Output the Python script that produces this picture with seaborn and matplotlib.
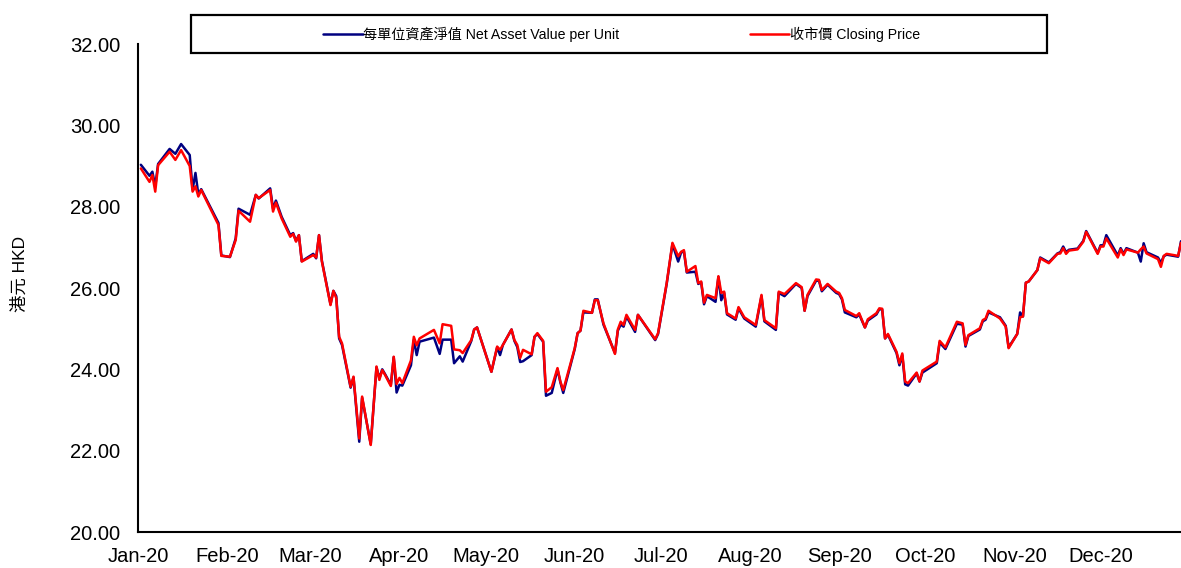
import pandas as pd
import numpy as np
import matplotlib
matplotlib.use("Agg")
import matplotlib.pyplot as plt
import matplotlib.dates as mdates
from matplotlib.patches import Rectangle
from matplotlib.lines import Line2D
from matplotlib.ticker import FormatStrFormatter
import seaborn as sns

# --- values (HKD, 2020) ---
dates = [
    "2020-01-02", "2020-01-05", "2020-01-06", "2020-01-07", "2020-01-08", "2020-01-12", "2020-01-14",
    "2020-01-16", "2020-01-19", "2020-01-20", "2020-01-21", "2020-01-22", "2020-01-23", "2020-01-29",
    "2020-01-30",
    "2020-02-02", "2020-02-04", "2020-02-05", "2020-02-09", "2020-02-11", "2020-02-12", "2020-02-16",
    "2020-02-17", "2020-02-18", "2020-02-20", "2020-02-23", "2020-02-24", "2020-02-25", "2020-02-26",
    "2020-02-27",
    "2020-03-02", "2020-03-03", "2020-03-04", "2020-03-05", "2020-03-08", "2020-03-09", "2020-03-10",
    "2020-03-11", "2020-03-12", "2020-03-15", "2020-03-16", "2020-03-18", "2020-03-19", "2020-03-22",
    "2020-03-24", "2020-03-25", "2020-03-26", "2020-03-27", "2020-03-29", "2020-03-30", "2020-03-31",
    "2020-04-01", "2020-04-02", "2020-04-05", "2020-04-06", "2020-04-07", "2020-04-08", "2020-04-13",
    "2020-04-15", "2020-04-16", "2020-04-19", "2020-04-20", "2020-04-22", "2020-04-23", "2020-04-26",
    "2020-04-27", "2020-04-28",
    "2020-05-03", "2020-05-05", "2020-05-06", "2020-05-07", "2020-05-10", "2020-05-11", "2020-05-12",
    "2020-05-13", "2020-05-14", "2020-05-17", "2020-05-18", "2020-05-19", "2020-05-21", "2020-05-22",
    "2020-05-24", "2020-05-26", "2020-05-27", "2020-05-28",
    "2020-06-01", "2020-06-02", "2020-06-03", "2020-06-04", "2020-06-07", "2020-06-08", "2020-06-09",
    "2020-06-11", "2020-06-15", "2020-06-16", "2020-06-17", "2020-06-18", "2020-06-19", "2020-06-22",
    "2020-06-23", "2020-06-29", "2020-06-30",
    "2020-07-02", "2020-07-03", "2020-07-05", "2020-07-07", "2020-07-08", "2020-07-09", "2020-07-10",
    "2020-07-13", "2020-07-14", "2020-07-15", "2020-07-16", "2020-07-17", "2020-07-20", "2020-07-21",
    "2020-07-22", "2020-07-23", "2020-07-24", "2020-07-27", "2020-07-28", "2020-07-30",
    "2020-08-03", "2020-08-05", "2020-08-06", "2020-08-10", "2020-08-11", "2020-08-13", "2020-08-17",
    "2020-08-19", "2020-08-20", "2020-08-21", "2020-08-24", "2020-08-25", "2020-08-26", "2020-08-28",
    "2020-08-31",
    "2020-09-01", "2020-09-02", "2020-09-03", "2020-09-07", "2020-09-08", "2020-09-10", "2020-09-11",
    "2020-09-14", "2020-09-15", "2020-09-16", "2020-09-17", "2020-09-18", "2020-09-21", "2020-09-22",
    "2020-09-23", "2020-09-24", "2020-09-25", "2020-09-28", "2020-09-29", "2020-09-30",
    "2020-10-05", "2020-10-06", "2020-10-08", "2020-10-12", "2020-10-14", "2020-10-15", "2020-10-16",
    "2020-10-20", "2020-10-21", "2020-10-22", "2020-10-23", "2020-10-27", "2020-10-29", "2020-10-30",
    "2020-11-02", "2020-11-03", "2020-11-04", "2020-11-05", "2020-11-06", "2020-11-09", "2020-11-10",
    "2020-11-13", "2020-11-16", "2020-11-17", "2020-11-18", "2020-11-19", "2020-11-20", "2020-11-23",
    "2020-11-25", "2020-11-26", "2020-11-30",
    "2020-12-01", "2020-12-02", "2020-12-03", "2020-12-07", "2020-12-08", "2020-12-09", "2020-12-10",
    "2020-12-14", "2020-12-15", "2020-12-16", "2020-12-17", "2020-12-21", "2020-12-22", "2020-12-23",
    "2020-12-24", "2020-12-28", "2020-12-29",
]

nav = [
    29.03, 28.76, 28.86, 28.50, 29.05, 29.42, 29.30, 29.54, 29.27, 28.42, 28.83, 28.30, 28.43, 27.60, 26.80,
    26.76, 27.22, 27.95, 27.80, 28.29, 28.20, 28.45, 27.95, 28.15, 27.75, 27.30, 27.35, 27.16, 27.30, 26.66,
    26.84, 26.73, 27.30, 26.67, 25.60, 25.93, 25.80, 24.76, 24.60, 23.55, 23.80, 22.22, 23.30, 22.16,
    24.05, 23.78, 24.00, 23.88, 23.62, 24.30, 23.43,
    23.62, 23.60, 24.10, 24.72, 24.35, 24.68, 24.78, 24.38, 24.73, 24.73, 24.15, 24.32, 24.19, 24.70,
    24.98, 25.03,
    23.94, 24.54, 24.35, 24.60, 24.98, 24.70, 24.55, 24.18, 24.20, 24.35, 24.80, 24.87, 24.68, 23.35,
    23.42, 24.00, 23.68, 23.42,
    24.50, 24.89, 24.95, 25.40, 25.39, 25.72, 25.72, 25.10, 24.40, 24.95, 25.10, 25.05, 25.30, 24.92,
    25.34, 24.72, 24.87,
    25.68, 26.10, 27.08, 26.65, 26.87, 26.90, 26.38, 26.40, 26.10, 26.14, 25.60, 25.80, 25.66, 26.27,
    25.70, 25.88, 25.35, 25.22, 25.50, 25.25,
    25.05, 25.80, 25.18, 24.97, 25.88, 25.80, 26.10, 26.00, 25.44, 25.80, 26.18, 26.18, 25.92, 26.08, 25.88,
    25.85, 25.72, 25.40, 25.28, 25.35, 25.03, 25.20, 25.35, 25.48, 25.47, 24.76, 24.85, 24.40, 24.10,
    24.35, 23.63, 23.60, 23.90, 23.70, 23.92,
    24.15, 24.66, 24.50, 25.12, 25.10, 24.56, 24.82, 24.98, 25.18, 25.22, 25.40, 25.28, 25.07, 24.54,
    24.87, 25.40, 25.30, 26.13, 26.16, 26.44, 26.75, 26.63, 26.85, 26.88, 27.02, 26.88, 26.94, 26.97,
    27.16, 27.40, 26.86,
    27.05, 27.05, 27.30, 26.80, 26.98, 26.84, 26.98, 26.87, 26.65, 27.10, 26.88, 26.75, 26.62, 26.78,
    26.82, 26.77, 27.15,
]

close = [
    28.94, 28.61, 28.78, 28.37, 29.02, 29.35, 29.15, 29.39, 29.00, 28.37, 28.50, 28.25, 28.41, 27.55, 26.79,
    26.77, 27.18, 27.90, 27.63, 28.29, 28.21, 28.41, 27.88, 28.10, 27.71, 27.26, 27.33, 27.14, 27.30, 26.65,
    26.81, 26.75, 27.30, 26.65, 25.58, 25.93, 25.75, 24.80, 24.64, 23.57, 23.82, 22.30, 23.33, 22.14,
    24.07, 23.74, 23.98, 23.86, 23.59, 24.31, 23.64,
    23.79, 23.66, 24.22, 24.80, 24.59, 24.76, 24.97, 24.64, 25.11, 25.07, 24.49, 24.47, 24.40, 24.72,
    24.98, 25.03,
    23.94, 24.56, 24.48, 24.60, 24.98, 24.72, 24.60, 24.28, 24.48, 24.37, 24.80, 24.89, 24.70, 23.45,
    23.56, 24.03, 23.70, 23.49,
    24.52, 24.89, 24.95, 25.44, 25.39, 25.70, 25.70, 25.13, 24.38, 24.98, 25.17, 25.09, 25.34, 24.97,
    25.34, 24.74, 24.89,
    25.70, 26.12, 27.11, 26.78, 26.89, 26.93, 26.40, 26.54, 26.12, 26.16, 25.64, 25.83, 25.75, 26.29,
    25.88, 25.91, 25.38, 25.25, 25.53, 25.28,
    25.09, 25.83, 25.21, 25.01, 25.91, 25.85, 26.12, 26.02, 25.44, 25.83, 26.21, 26.20, 25.95, 26.10, 25.91,
    25.88, 25.75, 25.46, 25.31, 25.38, 25.03, 25.23, 25.38, 25.50, 25.49, 24.76, 24.87, 24.43, 24.15,
    24.39, 23.70, 23.66, 23.92, 23.70, 23.97,
    24.19, 24.70, 24.54, 25.17, 25.13, 24.60, 24.84, 25.01, 25.21, 25.25, 25.44, 25.25, 25.05, 24.52,
    24.87, 25.28, 25.30, 26.13, 26.16, 26.44, 26.73, 26.61, 26.84, 26.85, 26.98, 26.84, 26.92, 26.95,
    27.14, 27.38, 26.84,
    27.02, 27.02, 27.22, 26.75, 26.95, 26.81, 26.95, 26.87, 26.95, 27.02, 26.85, 26.71, 26.52, 26.79,
    26.84, 26.79, 27.11,
]

NAV_LABEL = "每單位資產淨值 Net Asset Value per Unit"
CLOSE_LABEL = "收市價 Closing Price"
NAV_COLOR = "#000080"
CLOSE_COLOR = "#FF0000"

# --- style ---
sns.set_theme(style="white")
plt.rcParams["font.family"] = ["Liberation Sans", "Noto Sans CJK TC", "DejaVu Sans"]
for key in ["text.color", "axes.labelcolor", "xtick.color", "ytick.color", "axes.edgecolor"]:
    plt.rcParams[key] = "black"

df = pd.DataFrame({"date": pd.to_datetime(dates), NAV_LABEL: nav, CLOSE_LABEL: close})
long_df = df.melt(id_vars="date", var_name="series", value_name="hkd")

W, H = 1181, 568
fig = plt.figure(figsize=(W / 100, H / 100), dpi=100)
ax = fig.add_axes([138 / W, 36 / H, 1043 / W, 488 / H])

sns.lineplot(
    data=long_df, x="date", y="hkd", hue="series",
    hue_order=[NAV_LABEL, CLOSE_LABEL],
    palette={NAV_LABEL: NAV_COLOR, CLOSE_LABEL: CLOSE_COLOR},
    linewidth=1.8, legend=False, ax=ax,
)

ax.set_ylim(20, 32)
ax.set_yticks(np.arange(20, 32.1, 2))
ax.yaxis.set_major_formatter(FormatStrFormatter("%.2f"))
ax.set_xlim(pd.Timestamp("2020-01-01"), pd.Timestamp("2020-12-29"))
ax.xaxis.set_major_locator(mdates.MonthLocator())
ax.xaxis.set_major_formatter(mdates.DateFormatter("%b-%y"))
ax.set_xlabel("")
ax.set_ylabel("")

ax.tick_params(direction="inout", length=8.6, width=1.1, labelsize=14.5, colors="black")
ax.tick_params(axis="y", pad=8.5)
ax.tick_params(axis="x", pad=6.2)
for side in ["top", "right"]:
    ax.spines[side].set_visible(False)
for side in ["left", "bottom"]:
    ax.spines[side].set_linewidth(1.5)
    ax.spines[side].set_color("black")

fig.text(20 / W, 1 - 274 / H, "港元 HKD", rotation=90, ha="center", va="center", fontsize=12.5)

# legend box across the top
fig.add_artist(Rectangle((191 / W, 1 - 53 / H), 856 / W, 38 / H, transform=fig.transFigure,
                         fill=False, edgecolor="black", linewidth=1.6, clip_on=False))
handles = [Line2D([], [], color=NAV_COLOR, linewidth=1.8),
           Line2D([], [], color=CLOSE_COLOR, linewidth=1.8)]
fig.legend(handles, [NAV_LABEL, CLOSE_LABEL], ncol=2, loc="center left",
           bbox_to_anchor=(323 / W, 1 - 34 / H), frameon=False, fontsize=10.2,
           handlelength=2.8, handletextpad=0.05, columnspacing=9.2,
           borderpad=0, borderaxespad=0)

fig.savefig("out.png", dpi=100)
